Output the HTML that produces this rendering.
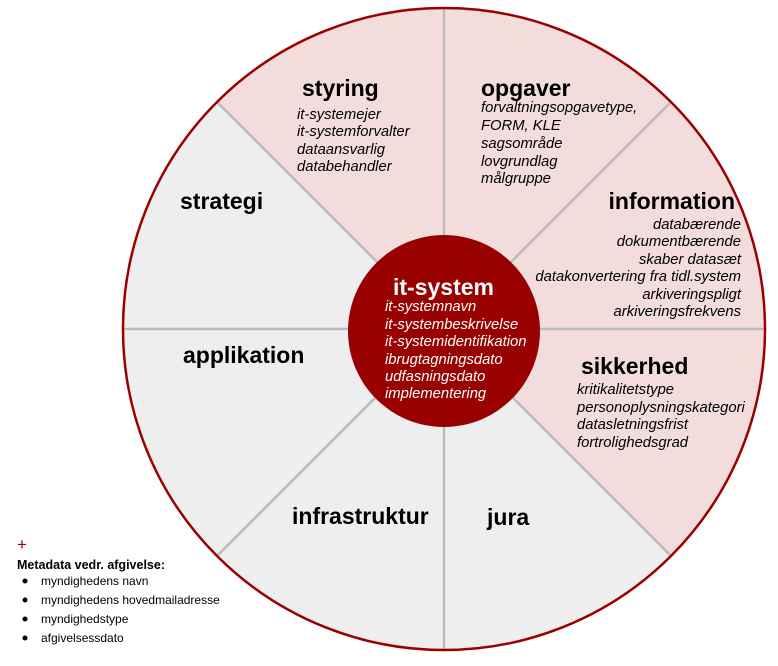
<!DOCTYPE html>
<html><head><meta charset="utf-8"><style>
body{margin:0;background:#fff;width:778px;height:661px;overflow:hidden}
svg text{font-family:"Liberation Sans",Arial,sans-serif}
.t{font-weight:bold;font-size:23px;fill:#000}
.i{font-style:italic;font-size:14.8px;fill:#000}
.w{font-style:italic;font-size:14.8px;fill:#fff}
.l{font-size:12px;fill:#000}
</style></head><body>
<svg width="778" height="661" viewBox="0 0 778 661" xmlns="http://www.w3.org/2000/svg">
<path d="M444 329 L217 102 A321 321 0 0 1 671 556 Z" fill="#f2dcdc"/>
<path d="M444 329 L671 556 A321 321 0 0 1 217 102 Z" fill="#eeeeee"/>
<g stroke="#bbbbbb" stroke-width="2.5">
<line x1="444" y1="8" x2="444" y2="650"/>
<line x1="123" y1="329" x2="765" y2="329"/>
<line x1="217" y1="102" x2="671" y2="556"/>
<line x1="671" y1="102" x2="217" y2="556"/>
</g>
<circle cx="444" cy="329" r="321" fill="none" stroke="#9a0000" stroke-width="2.5"/>
<circle cx="444" cy="331" r="96" fill="#990000"/>
<text class="t" x="302" y="96">styring</text>
<text class="i" x="297" y="119">it-systemejer</text>
<text class="i" x="297" y="136">it-systemforvalter</text>
<text class="i" x="297" y="154">dataansvarlig</text>
<text class="i" x="297" y="171">databehandler</text>
<text class="t" x="481" y="96">opgaver</text>
<text class="i" x="481" y="112">forvaltningsopgavetype,</text>
<text class="i" x="481" y="130">FORM, KLE</text>
<text class="i" x="481" y="148">sagsområde</text>
<text class="i" x="481" y="166">lovgrundlag</text>
<text class="i" x="481" y="183">målgruppe</text>
<text class="t" x="735" y="209" text-anchor="end">information</text>
<g text-anchor="end">
<text class="i" x="741" y="229">databærende</text>
<text class="i" x="741" y="246">dokumentbærende</text>
<text class="i" x="741" y="264">skaber datasæt</text>
<text class="i" x="741" y="281">datakonvertering fra tidl.system</text>
<text class="i" x="741" y="299">arkiveringspligt</text>
<text class="i" x="741" y="316">arkiveringsfrekvens</text>
</g>
<text class="t" x="581" y="374">sikkerhed</text>
<text class="i" x="577" y="394">kritikalitetstype</text>
<text class="i" x="577" y="412">personoplysningskategori</text>
<text class="i" x="577" y="429">datasletningsfrist</text>
<text class="i" x="577" y="447">fortrolighedsgrad</text>
<text class="t" x="393" y="295" style="fill:#fff">it-system</text>
<text class="w" x="385" y="311">it-systemnavn</text>
<text class="w" x="385" y="329">it-systembeskrivelse</text>
<text class="w" x="385" y="346">it-systemidentifikation</text>
<text class="w" x="385" y="364">ibrugtagningsdato</text>
<text class="w" x="385" y="381">udfasningsdato</text>
<text class="w" x="385" y="398">implementering</text>
<text class="t" x="180" y="209">strategi</text>
<text class="t" x="183" y="363">applikation</text>
<text class="t" x="292" y="524">infrastruktur</text>
<text class="t" x="487" y="525">jura</text>
<text x="17" y="550" style="font-size:17px;fill:#990000">+</text>
<text x="17" y="569" style="font-size:12.5px;font-weight:bold">Metadata vedr. afgivelse:</text>
<g fill="#000">
<circle cx="25" cy="581" r="2.5"/><circle cx="25" cy="600" r="2.5"/>
<circle cx="25" cy="619" r="2.5"/><circle cx="25" cy="638" r="2.5"/>
</g>
<text class="l" x="41" y="585">myndighedens navn</text>
<text class="l" x="41" y="604">myndighedens hovedmailadresse</text>
<text class="l" x="41" y="623">myndighedstype</text>
<text class="l" x="41" y="642">afgivelsessdato</text>
</svg>
</body></html>
